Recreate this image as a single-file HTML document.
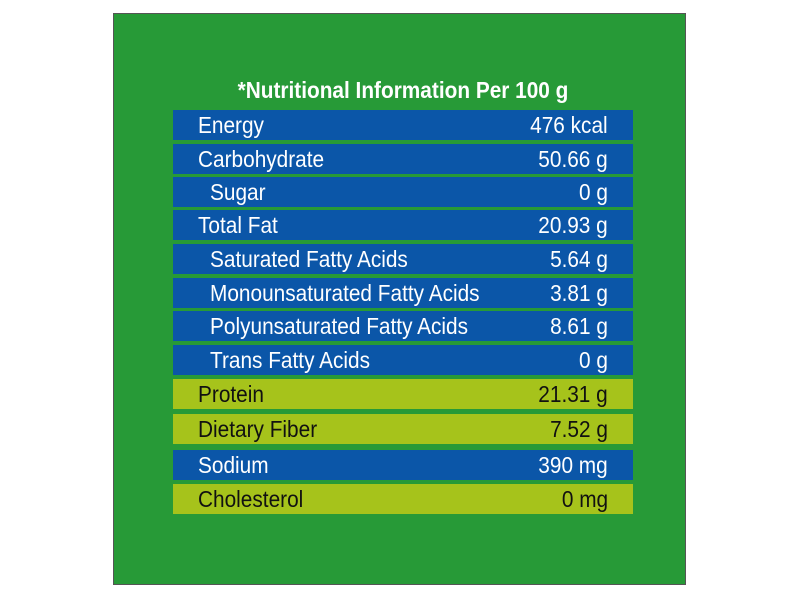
<!DOCTYPE html>
<html><head><style>
body{margin:0;width:800px;height:599px;background:#fff;position:relative;overflow:hidden;font-family:"Liberation Sans",sans-serif;}
#box{position:absolute;left:113px;top:13px;width:573px;height:572px;background:#279a37;border:1px solid #555;box-sizing:border-box;}
.t{position:absolute;left:3px;width:800px;top:77px;text-align:center;color:#fff;font-weight:bold;font-size:23px;transform:scaleX(0.905);transform-origin:400px 0;}
.r{position:absolute;left:173px;width:460px;height:30px;line-height:30px;font-size:23px;color:#fff;}
.b{background:#0b56a8;}
.g{background:#a6c31b;color:#111;}
.r span{position:absolute;left:25px;transform:scaleX(0.905);transform-origin:0 0;white-space:nowrap;}
.r span.i{left:37px;}
.r b{position:absolute;right:25px;font-weight:normal;transform:scaleX(0.905);transform-origin:100% 0;white-space:nowrap;}
</style></head><body>
<div id="box"></div>
<div class="t">*Nutritional Information Per 100 g</div>
<div class="r b" style="top:110px"><span>Energy</span><b>476 kcal</b></div>
<div class="r b" style="top:144px"><span>Carbohydrate</span><b>50.66 g</b></div>
<div class="r b" style="top:177px"><span class="i">Sugar</span><b>0 g</b></div>
<div class="r b" style="top:210px"><span>Total Fat</span><b>20.93 g</b></div>
<div class="r b" style="top:244px"><span class="i">Saturated Fatty Acids</span><b>5.64 g</b></div>
<div class="r b" style="top:278px"><span class="i">Monounsaturated Fatty Acids</span><b>3.81 g</b></div>
<div class="r b" style="top:311px"><span class="i">Polyunsaturated Fatty Acids</span><b>8.61 g</b></div>
<div class="r b" style="top:345px"><span class="i">Trans Fatty Acids</span><b>0 g</b></div>
<div class="r g" style="top:379px"><span>Protein</span><b>21.31 g</b></div>
<div class="r g" style="top:414px"><span>Dietary Fiber</span><b>7.52 g</b></div>
<div class="r b" style="top:450px"><span>Sodium</span><b>390 mg</b></div>
<div class="r g" style="top:484px"><span>Cholesterol</span><b>0 mg</b></div>
</body></html>
